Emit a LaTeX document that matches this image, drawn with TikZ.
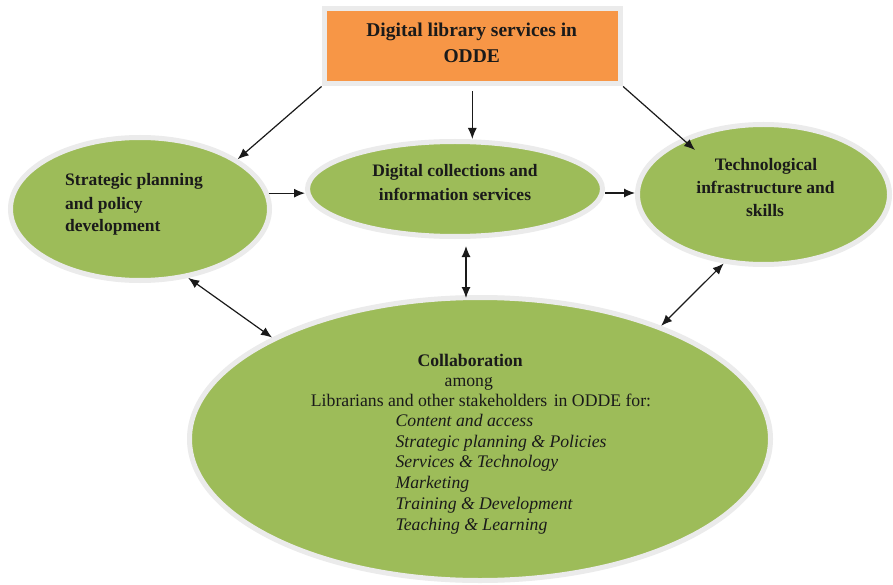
\documentclass[tikz,border=0pt]{standalone}
\usepackage{fontspec}
\setmainfont{Liberation Serif}
\usetikzlibrary{shapes.geometric,arrows.meta,calc}
\definecolor{ogreen}{HTML}{9DBC59}
\definecolor{oorange}{HTML}{F79646}
\definecolor{rim}{HTML}{EBEBEB}
\definecolor{ink}{HTML}{1A1A1A}
\begin{document}
\begin{tikzpicture}[x=1pt,y=-1pt,
  oval/.style={ellipse, fill=ogreen, draw=rim, line width=5pt, inner sep=0pt},
  hdr/.style={rectangle, fill=oorange, draw=rim, line width=5pt, inner sep=0pt},
  hdrtxt/.style={font=\fontsize{19.5}{23}\selectfont\bfseries, text=ink, inner sep=0pt, anchor=base},
  ovtxt/.style={font=\fontsize{17.5}{21}\selectfont\bfseries, text=ink, inner sep=0pt, anchor=base},
  colltxt/.style={font=\fontsize{17.7}{20}\selectfont, text=ink, inner sep=0pt, anchor=base},
  itemtxt/.style={font=\fontsize{17.7}{20}\selectfont\itshape, text=ink, inner sep=0pt, anchor=base west},
  tip/.tip={Latex[length=11pt,width=9pt]},
  arr/.style={-tip, line width=1.2pt, draw=ink},
  darr/.style={tip-tip, line width=1.2pt, draw=ink}]
\useasboundingbox (0,0) rectangle (893,585);
\fill[white] (0,0) rectangle (893,585);

% shapes
\node[hdr, minimum width=296.5pt, minimum height=75.5pt] (top) at (472.3,46.2) {};
\node[oval, minimum width=259pt, minimum height=143pt] (sp) at (140,209) {};
\node[oval, minimum width=295pt, minimum height=95pt] (dc) at (455,189) {};
\node[oval, minimum width=252pt, minimum height=140pt] (ti) at (763.5,194.5) {};
\node[oval, minimum width=581pt, minimum height=283pt] (coll) at (480,439) {};

% texts
\node[hdrtxt] (top1) at (471.7,37) {Digital library services in};
\node[hdrtxt] (top2) at (471.7,63) {ODDE};

\node[ovtxt, anchor=base west] (sp1) at (65,186) {Strategic planning};
\node[ovtxt, anchor=base west] (sp2) at (65,209.5) {and policy};
\node[ovtxt, anchor=base west] (sp3) at (65,232) {development};

\node[ovtxt] (dc1) at (455,176.7) {Digital collections and};
\node[ovtxt] (dc2) at (455,201) {information services};

\node[ovtxt] (ti1) at (766,171) {Technological};
\node[ovtxt] (ti2) at (765.5,194) {infrastructure and};
\node[ovtxt] (ti3) at (765,217) {skills};

\node[colltxt, font=\fontsize{17.7}{20}\selectfont\bfseries] (c1) at (470.2,366) {Collaboration};
\node[colltxt] (c2) at (468.8,386) {among};
\node[colltxt] (c3) at (481,406.7) {Librarians and other stakeholders\hspace{2pt} in ODDE for:};
\node[itemtxt] (i1) at (395.4,426.7) {Content and access};
\node[itemtxt] (i2) at (395.4,447) {Strategic planning \& Policies};
\node[itemtxt] (i3) at (395.4,467.7) {Services \& Technology};
\node[itemtxt] (i4) at (395.4,488) {Marketing};
\node[itemtxt] (i5) at (395.4,509) {Training \& Development};
\node[itemtxt] (i6) at (395.4,530) {Teaching \& Learning};

% connectors
\draw[arr] (top.south west) -- (sp.27);
\draw[arr, shorten <=5pt] (top.south) -- (top.south |- dc.north);
\coordinate (tientry) at ($(ti.center)+(-68.5,-44.5)$);
\draw[arr] (top.south east) -- (tientry);
\draw[arr] (sp.7) -- (sp.7 -| dc.west);
\draw[arr] ([yshift=-4pt]dc.east) -- ([yshift=-4pt]dc.east -| ti.west);
\draw[darr, shorten <=7pt, shorten >=-3pt] ([xshift=-14pt]coll.north |- dc.south) -- ([xshift=-14pt]coll.north);
\draw[darr] (sp.-55.6) -- (coll.154.5);
\draw[darr] (ti.240) -- (coll.32.1);
\end{tikzpicture}
\end{document}
